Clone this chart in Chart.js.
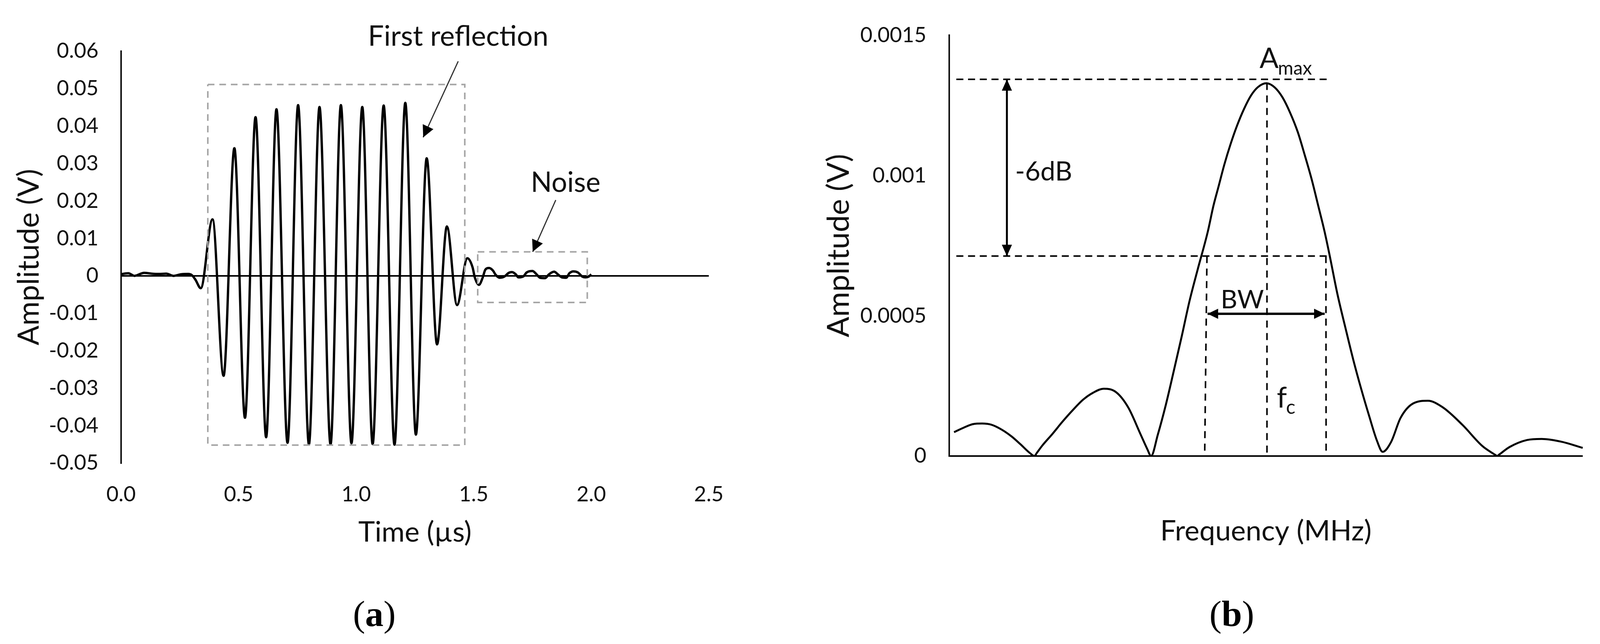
<!DOCTYPE html>
<html>
<head>
<meta charset="utf-8">
<title>Reflection and spectrum</title>
<script src="https://cdn.jsdelivr.net/npm/chart.js@4"></script>
<style>
  html, body { margin: 0; background: #fff; overflow: hidden; }
  canvas { position: absolute; top: 0; }
  .caption { position: absolute; top: 1516px; font: 94px "Liberation Serif", serif; color: #000; transform: translateX(-50%); }
</style>
</head>
<body>
<canvas id="panelA"></canvas>
<canvas id="panelB"></canvas>
<div class="caption" id="capA">(<b>a</b>)</div>
<div class="caption" id="capB">(<b>b</b>)</div>

<script>
/***** DATA *****/

const timeTicks = [0, 0.5, 1, 1.5, 2, 2.5]
const timeTickLabels = ['0.0', '0.5', '1.0', '1.5', '2.0', '2.5']
const ampTicksA = [-0.05, -0.04, -0.03, -0.02, -0.01, 0, 0.01, 0.02, 0.03, 0.04, 0.05, 0.06]
const ampTickLabelsA = ['-0.05', '-0.04', '-0.03', '-0.02', '-0.01', '0', '0.01', '0.02', '0.03', '0.04', '0.05', '0.06']
const ampTicksB = [0, 0.0005, 0.001, 0.0015]
const ampTickLabelsB = ['0', '0.0005', '0.001', '0.0015']

const time = [
  0, 0.005, 0.031, 0.057, 0.098, 0.129, 0.161, 0.192, 0.223, 0.254, 0.285, 0.301, 0.316, 0.339,
  0.389, 0.436, 0.482, 0.527, 0.572, 0.617, 0.661, 0.708, 0.753, 0.799, 0.844, 0.891, 0.935, 0.98,
  1.026, 1.07, 1.117, 1.163, 1.209, 1.254, 1.3, 1.344, 1.386, 1.429, 1.473,
  1.495, 1.505, 1.522, 1.538, 1.549, 1.565, 1.582, 1.592, 1.609, 1.63, 1.649, 1.663, 1.679, 1.69,
  1.712, 1.725, 1.75, 1.766, 1.782, 1.804, 1.82, 1.842, 1.858, 1.875, 1.894, 1.907, 1.924, 1.943,
  1.962, 1.975, 1.989, 2.0
]
const amplitude = [
  0.0004, 0.0005, 0.0007, 0, 0.0008, 0.0006, 0.0005, 0.0006, 0, 0.0004, 0.0005, 0.0002, -0.001, -0.0033,
  0.0151, -0.0267, 0.0341, -0.0379, 0.0424, -0.0431, 0.0445, -0.0446, 0.0456, -0.045, 0.0451, -0.045, 0.0456, -0.0447,
  0.0451, -0.0449, 0.0455, -0.0451, 0.0462, -0.0424, 0.0314, -0.0183, 0.0132, -0.0078, 0.0047,
  0.0023, -0.0005, -0.0024, -0.0005, 0.0016, 0.0021, 0.0014, 0.0004, -0.0005, -0.0002, 0.0008, 0.001, 0.0004, -0.0004,
  -0.0001, 0.0009, 0.0013, 0.0005, -0.0005, -0.0006, 0.0004, 0.0011, 0.0004, -0.0004, -0.0005, 0.0007, 0.0012, 0.0009,
  -0.0002, -0.0004, -0.0002, 0.0004
]

const frequency = [
  0.079, 0.24, 0.381, 0.522, 0.664, 0.825, 0.986, 1.127, 1.269, 1.349, 1.385, 1.47, 1.632, 1.792, 1.954, 2.116, 2.276, 2.44, 2.633, 2.828, 3.023, 3.13, 3.188,
  3.294, 3.419, 3.544, 3.67, 3.795, 3.921, 4.082, 4.172, 4.253, 4.344, 4.444, 4.545, 4.656, 4.767, 4.878, 5.009,
  5.14, 5.261, 5.382, 5.503, 5.614, 5.725, 5.826, 5.927, 6.007, 6.128, 6.254, 6.379, 6.504, 6.629, 6.755, 6.842,
  6.975, 7.125, 7.32, 7.555, 7.789, 8.102, 8.414, 8.62, 8.648, 8.68, 8.844, 9.117, 9.352, 9.664, 10
]
const spectrum = [
  0.000085, 0.000102, 0.000114, 0.000116, 0.000112, 0.000095, 0.00007, 0.000042, 0.000012, 0, 0.000011, 0.000037, 0.000079, 0.000123, 0.000164, 0.000201, 0.000226, 0.00024, 0.000228, 0.000173, 0.000077, 0.000024, 0,
  0.000076, 0.000181, 0.000301, 0.000425, 0.000553, 0.000663, 0.000799, 0.000892, 0.000961, 0.001039, 0.001113, 0.001178, 0.001238, 0.001286, 0.001316, 0.001329,
  0.001314, 0.001279, 0.001224, 0.001155, 0.001072, 0.000984, 0.000892, 0.000799, 0.000714, 0.000578, 0.000458, 0.000343, 0.000239, 0.000143, 0.000053, 0.000015,
  0.00005, 0.000136, 0.000187, 0.000197, 0.000174, 0.000111, 0.000036, 0.000004, 0, 0.000005, 0.000032, 0.000057, 0.000061, 0.000051, 0.000029
]

// dashed guides and frames, in axis units
const reflectionBox = [[0.369, 0.0511], [1.462, 0.0511], [1.462, -0.0452], [0.369, -0.0452], [0.369, 0.0511]]
const noiseBox = [[1.517, 0.0064], [1.983, 0.0064], [1.983, -0.0071], [1.517, -0.0071], [1.517, 0.0064]]
const amaxGuide = [[0.115, 0.001343], [5.995, 0.001343]]
const halfGuide = [[0.115, 0.000713], [5.995, 0.000713]]
const centerGuide = [[5.017, 0.00133], [5.017, 0]]
const lowGuide = [[4.07, 0.000713], [4.034, 0]]
const highGuide = [[5.947, 0.000713], [5.95, 0]]

/***** HELPERS *****/

const FONT = 'Lato, sans-serif'
const TEXT = '#111'

// the browser may hand over a narrower window than the 4176 the layout was measured on
const fx = window.innerWidth / 4176
const panelWidth = Math.round(2088 * fx)

const toPoints = (xs, ys) => xs.map((x, i) => ({x: x, y: ys[i]}))
const pairs = (list) => list.map((p) => ({x: p[0], y: p[1]}))

const dashed = (list, color, width, dash) => ({
  data: pairs(list),
  borderColor: color,
  borderWidth: width,
  borderDash: dash,
  pointRadius: 0,
  tension: 0
})

const drawHead = (ctx, x0, y0, x1, y1, len, half) => {
  const a = Math.atan2(y1 - y0, x1 - x0)
  ctx.fillStyle = '#000'
  ctx.beginPath()
  ctx.moveTo(x1, y1)
  ctx.lineTo(x1 - len * Math.cos(a) + half * Math.sin(a), y1 - len * Math.sin(a) - half * Math.cos(a))
  ctx.lineTo(x1 - len * Math.cos(a) - half * Math.sin(a), y1 - len * Math.sin(a) + half * Math.cos(a))
  ctx.closePath()
  ctx.fill()
}

// arrows and free labels are given in axis units and placed through the chart's scales
const notes = {
  id: 'notes',
  afterDatasetsDraw: (chart, args, opts) => {
    const ctx = chart.ctx
    const sx = chart.scales.x
    const sy = chart.scales.y
    ctx.save()
    opts.arrows.forEach((a) => {
      const x0 = sx.getPixelForValue(a.from[0])
      const y0 = sy.getPixelForValue(a.from[1])
      const x1 = sx.getPixelForValue(a.to[0])
      const y1 = sy.getPixelForValue(a.to[1])
      ctx.strokeStyle = a.color
      ctx.lineWidth = a.width
      ctx.beginPath()
      ctx.moveTo(x0, y0)
      ctx.lineTo(x1, y1)
      ctx.stroke()
      drawHead(ctx, x0, y0, x1, y1, a.len, a.half)
      if (a.both) drawHead(ctx, x1, y1, x0, y0, a.len, a.half)
    })
    ctx.fillStyle = TEXT
    ctx.textBaseline = 'alphabetic'
    opts.labels.forEach((l) => {
      ctx.font = l.size + 'px ' + FONT
      ctx.textAlign = l.align
      ctx.fillText(l.text, sx.getPixelForValue(l.x), sy.getPixelForValue(l.y))
    })
    ctx.restore()
  }
}

const axes = (cfg) => ({
  x: {
    type: 'linear',
    min: cfg.xMin,
    max: cfg.xMax,
    afterFit: (scale) => { scale.height = cfg.xHeight },
    afterBuildTicks: (scale) => { scale.ticks = cfg.xTicks.map((v) => ({value: v})) },
    grid: {display: false},
    border: {display: false},
    ticks: {
      display: cfg.xLabels.length > 0,
      autoSkip: false,
      maxRotation: 0,
      padding: 40,
      color: TEXT,
      font: {family: FONT, size: 54},
      callback: (v, i) => cfg.xLabels[i]
    },
    title: {
      display: true,
      text: cfg.xTitle,
      color: TEXT,
      font: {family: FONT, size: 72},
      padding: {top: 0, bottom: cfg.xTitleBottom}
    }
  },
  y: {
    type: 'linear',
    min: cfg.yMin,
    max: cfg.yMax,
    afterFit: (scale) => { scale.width = cfg.yWidth * fx },
    afterBuildTicks: (scale) => { scale.ticks = cfg.yTicks.map((v) => ({value: v})) },
    grid: {
      drawTicks: false,
      color: (c) => c.tick && c.tick.value === 0 ? '#000' : 'transparent',
      lineWidth: cfg.zeroWidth
    },
    border: {display: true, color: '#111', width: cfg.axisWidth},
    ticks: {
      autoSkip: false,
      padding: 59 * fx,
      color: TEXT,
      font: {family: FONT, size: 54},
      callback: (v, i) => cfg.yLabels[i]
    },
    title: {
      display: true,
      text: 'Amplitude (V)',
      color: TEXT,
      font: {family: FONT, size: cfg.yTitleSize},
      padding: {top: cfg.yTitleLeft, bottom: 0}
    }
  }
})

const baseOptions = (cfg, notesCfg) => ({
  responsive: false,
  animation: false,
  devicePixelRatio: 1,
  layout: {padding: {left: 0, top: cfg.top, right: cfg.right * fx, bottom: 0}},
  plugins: {legend: {display: false}, tooltip: {enabled: false}, notes: notesCfg},
  scales: axes(cfg)
})

/***** PAGE SETUP *****/

const canvasA = document.getElementById('panelA')
const canvasB = document.getElementById('panelB')
canvasA.width = canvasB.width = panelWidth
canvasA.height = canvasB.height = 1648
canvasA.style.left = '0px'
canvasB.style.left = panelWidth + 'px'
document.getElementById('capA').style.left = 977 * fx + 'px'
document.getElementById('capB').style.left = 3215 * fx + 'px'

/***** PANEL (a) *****/

new Chart(canvasA, {
  type: 'line',
  plugins: [notes],
  data: {
    datasets: [
      dashed(reflectionBox, '#a6a6a6', 4, [17, 12.5]),
      dashed(noiseBox, '#a6a6a6', 4, [17, 12.5]),
      {
        data: toPoints(time, amplitude),
        borderColor: '#000',
        borderWidth: 6,
        pointRadius: 0,
        cubicInterpolationMode: 'monotone'
      }
    ]
  },
  options: baseOptions({
    top: 131, right: 238,
    xMin: 0, xMax: 2.5, xTicks: timeTicks, xLabels: timeTickLabels,
    xHeight: 463, xTitle: 'Time (\u00b5s)', xTitleBottom: 242,
    yMin: -0.05, yMax: 0.06, yTicks: ampTicksA, yLabels: ampTickLabelsA,
    yWidth: 316, yTitleSize: 75, yTitleLeft: 30,
    zeroWidth: 4, axisWidth: 4
  }, {
    arrows: [
      {from: [1.434, 0.0573], to: [1.285, 0.037], color: '#333', width: 3, len: 30, half: 15},
      {from: [1.849, 0.02025], to: [1.751, 0.00643], color: '#333', width: 3, len: 30, half: 15}
    ],
    labels: [
      {text: 'First reflection', x: 1.434, y: 0.0615, size: 72, align: 'center'},
      {text: 'Noise', x: 1.891, y: 0.0224, size: 71, align: 'center'}
    ]
  })
})

/***** PANEL (b) *****/

new Chart(canvasB, {
  type: 'line',
  plugins: [notes],
  data: {
    datasets: [
      {
        data: toPoints(frequency, spectrum),
        borderColor: '#000',
        borderWidth: 5,
        pointRadius: 0,
        cubicInterpolationMode: 'monotone'
      },
      dashed(amaxGuide, '#000', 4, [18, 12]),
      dashed(halfGuide, '#000', 4, [18, 12]),
      dashed(centerGuide, '#000', 4, [18, 14]),
      dashed(lowGuide, '#000', 4, [18, 14]),
      dashed(highGuide, '#000', 4, [18, 14])
    ]
  },
  options: baseOptions({
    top: 84, right: 45,
    xMin: 0, xMax: 10, xTicks: [], xLabels: [],
    xHeight: 481, xTitle: 'Frequency (MHz)', xTitleBottom: 245,
    yMin: 0, yMax: 0.0015, yTicks: ampTicksB, yLabels: ampTickLabelsB,
    yWidth: 389, yTitleSize: 78, yTitleLeft: 53,
    zeroWidth: 4, axisWidth: 4
  }, {
    arrows: [
      {from: [0.913, 0.001343], to: [0.913, 0.000713], color: '#000', width: 5, len: 29, half: 13, both: true},
      {from: [4.08, 0.000507], to: [5.927, 0.000507], color: '#000', width: 6, len: 27, half: 13, both: true}
    ],
    labels: [
      {text: 'A', x: 4.9, y: 0.001384, size: 72, align: 'left'},
      {text: 'max', x: 5.19, y: 0.001359, size: 48, align: 'left'},
      {text: '-6dB', x: 1.494, y: 0.000982, size: 68, align: 'center'},
      {text: 'BW', x: 4.627, y: 0.000527, size: 66, align: 'center'},
      {text: 'f', x: 5.172, y: 0.000173, size: 74, align: 'left'},
      {text: 'c', x: 5.318, y: 0.000151, size: 50, align: 'left'}
    ]
  })
})
</script>
</body>
</html>
